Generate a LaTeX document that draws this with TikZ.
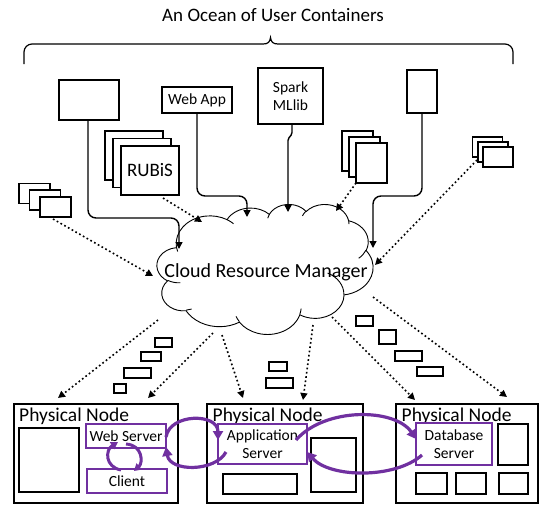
\documentclass[tikz,border=0pt]{standalone}
\usepackage{fontspec}
\setmainfont{Carlito}
\usetikzlibrary{arrows.meta}
\definecolor{vpurple}{HTML}{7030A0}

\begin{document}
\begin{tikzpicture}[x=1pt,y=-1pt,
  box/.style={draw, line width=1.2pt, inner sep=0pt, outer sep=0pt, fill=white},
  txt/.style={font=\fontsize{15.5}{18}\selectfont, align=center},
  pbox/.style={draw=vpurple, line width=2.8pt, inner sep=0pt, outer sep=0pt, fill=white,
    font=\fontsize{15.5}{18}\selectfont, align=center},
  msg/.style={draw, line width=1.1pt, inner sep=0pt, outer sep=0pt},
  pnlabel/.style={anchor=base west, inner sep=0pt, font=\fontsize{19.5}{22}\selectfont},
  link/.style={line width=1.4pt, rounded corners=8pt, -{Triangle[length=7pt,width=7pt]}},
  dotlink/.style={line width=1.6pt, dash pattern=on 1.7pt off 2.6pt, -{Triangle[length=7pt,width=7pt]}},
  ploop/.style={draw=vpurple, line width=3.2pt, -{Triangle[length=9pt,width=10pt]}},
  sloop/.style={draw=vpurple, line width=3pt, -{Triangle[length=7pt,width=8pt]}},
  cloudline/.style={line width=0.9pt}]

\useasboundingbox (0,0) rectangle (540,504);

% heading and brace
\node[font=\fontsize{19}{22}\selectfont] (title) at (273,15) {An Ocean of User Containers};
\draw[line width=1.2pt] (24,64) -- (24,52) arc[start angle=180, delta angle=90, radius=8]
  -- (263,44) .. controls (268,44) and (270,42) .. (270.5,37.5)
  .. controls (271,42) and (273,44) .. (278,44)
  -- (505,44) arc[start angle=270, delta angle=90, radius=8] -- (513,64);

% user containers
\node[box, minimum width=60, minimum height=40] (plain) at (89,100) {};
\node[box, txt, minimum width=70, minimum height=26] (webapp) at (197,100) {Web App};
\node[box, minimum width=58, minimum height=49] (rub3) at (134,155.5) {};
\node[box, minimum width=58, minimum height=49] (rub2) at (142,163) {};
\node[box, minimum width=58, minimum height=49, font=\fontsize{19}{22}\selectfont] (rubis) at (150,170.5) {RUBiS};
\node[box, minimum width=31, minimum height=20] (ls3) at (34.5,193.5) {};
\node[box, minimum width=31, minimum height=20] (ls2) at (45,200) {};
\node[box, minimum width=31, minimum height=20] (ls1) at (55.5,207) {};
\node[box, txt, minimum width=65, minimum height=56] (spark) at (290.5,96) {Spark\\MLlib};
\node[box, minimum width=30, minimum height=43] (tall) at (422,91.5) {};
\node[box, minimum width=31, minimum height=40] (ms3) at (357.5,151) {};
\node[box, minimum width=31, minimum height=40] (ms2) at (364.5,157) {};
\node[box, minimum width=31, minimum height=40] (ms1) at (371.5,163) {};
\node[box, minimum width=30, minimum height=20] (rs3) at (487.5,147) {};
\node[box, minimum width=30, minimum height=20] (rs2) at (493,152) {};
\node[box, minimum width=30, minimum height=20] (rs1) at (498,157) {};

% cloud outline
\draw[cloudline, fill=white] (176.5,247.24)
  arc[start angle=172.25, delta angle=128.12, x radius=33.77, y radius=27.66]
  arc[start angle=-152.02, delta angle=106.56, x radius=26.67, y radius=21.87]
  arc[start angle=-153.49, delta angle=116.17, x radius=21.83, y radius=17.89]
  arc[start angle=-139.71, delta angle=129.50, x radius=24.29, y radius=19.85]
  arc[start angle=-74.77, delta angle=97.98, x radius=26.67, y radius=21.89]
  arc[start angle=-37.52, delta angle=119.38, x radius=33.88, y radius=27.75]
  arc[start angle=0.46, delta angle=121.51, x radius=28.93, y radius=23.67]
  arc[start angle=16.84, delta angle=129.40, x radius=33.76, y radius=27.73]
  arc[start angle=58.98, delta angle=91.21, x radius=38.60, y radius=31.73]
  arc[start angle=-276.69, delta angle=139.79, x radius=21.80, y radius=17.81]
  arc[start angle=-239.64, delta angle=143.75, x radius=21.73, y radius=17.89]
  -- cycle;
% inner puff edges
\draw[cloudline] (180.47,282.77) arc[start angle=85.55, delta angle=34.81, x radius=21.73, y radius=17.89];
\draw[cloudline] (191.64,309.02) arc[start angle=68.23, delta angle=15.08, x radius=21.80, y radius=17.81];
\draw[cloudline] (239.39,321.63) arc[start angle=146.24, delta angle=12.23, x radius=33.76, y radius=27.73];
\draw[cloudline] (301.14,308.58) arc[start angle=4.74, delta angle=12.10, x radius=33.76, y radius=27.73];
\draw[cloudline] (327.65,273.08) arc[start angle=-64.03, delta angle=64.49, x radius=28.93, y radius=23.67];
\draw[cloudline] (365.99,250.20) arc[start angle=23.21, delta angle=26.43, x radius=26.67, y radius=21.89];
\draw[cloudline] (348.62,220.33) arc[start angle=-10.21, delta angle=11.03, x radius=24.29, y radius=19.85];
\draw[cloudline] (302.39,215.89) arc[start angle=-156.29, delta angle=16.58, x radius=24.29, y radius=19.85];
\draw[cloudline] (267.71,218.20) arc[start angle=-167.73, delta angle=14.24, x radius=21.83, y radius=17.89];
\draw[cloudline] (227.0,219.62) arc[start angle=-59.63, delta angle=13.88, x radius=33.77, y radius=27.66];
\draw[cloudline] (177.64,251.51) arc[start angle=163.19, delta angle=9.06, x radius=33.77, y radius=27.66];
\node[font=\fontsize{20}{24}\selectfont] (crm) at (266,272) {Cloud Resource Manager};

% points on the cloud outline
\coordinate (inA) at (179,249);
\coordinate (inB) at (247,217);
\coordinate (inC) at (288,212);
\coordinate (inD) at (373,248);
\coordinate (inE) at (202,222);
\coordinate (inF) at (153,276);
\coordinate (inG) at (336,211);
\coordinate (inH) at (375,265);
\coordinate (outA) at (158,320);
\coordinate (outB) at (213,333);
\coordinate (outC) at (222,335);
\coordinate (outD) at (313,325);
\coordinate (outE) at (332,317);
\coordinate (outF) at (373,297);

% solid connectors into the manager
\draw[link] (plain.south -| 88,0) |- (179,218) -- (inA);
\draw[link] (webapp.south) |- (247,196) -- (inB);
\draw[link, rounded corners=1.5pt] (spark.south -| 292,0) -- (292,134) -- (288,139) -- (inC);
\draw[link] (tall.south) |- (373,196) -- (inD);

% dotted connectors into the manager
\draw[dotlink] (rubis.south east) ++(-16,3) -- (inE);
\draw[dotlink] (ls1.south west) ++(13,2) -- (inF);
\draw[dotlink] (ms1.south west) -- (inG);
\draw[dotlink] (rs1.south west) ++(-6,-7) -- (inH);

% physical nodes
\node[box, minimum width=164, minimum height=99] (pn1) at (96,453.5) {};
\node[box, minimum width=156, minimum height=99] (pn2) at (285,453.5) {};
\node[box, minimum width=142, minimum height=99] (pn3) at (467,453.5) {};
\node[pnlabel] (pn1l) at (19,421) {Physical Node};
\node[pnlabel] (pn2l) at (212.5,421) {Physical Node};
\node[pnlabel] (pn3l) at (401.5,421) {Physical Node};

\node[box, minimum width=60, minimum height=64] (pn1a) at (49,460) {};
\node[pbox, minimum width=80, minimum height=24] (web) at (126,436) {Web Server};
\node[pbox, minimum width=80, minimum height=24] (client) at (127,481) {Client};

\node[pbox, minimum width=89, minimum height=40] (app) at (262.5,444) {Application\\Server};
\node[box, minimum width=74, minimum height=20] (pn2a) at (260,484) {};
\node[box, minimum width=45, minimum height=54] (pn2b) at (333.5,465) {};

\node[pbox, minimum width=76, minimum height=42] (db) at (454,444) {Database\\Server};
\node[box, minimum width=30, minimum height=41] (pn3a) at (513,444.5) {};
\node[box, minimum width=31, minimum height=21] (pn3b) at (431.5,483.5) {};
\node[box, minimum width=30, minimum height=21] (pn3c) at (471,483.5) {};
\node[box, minimum width=29, minimum height=21] (pn3d) at (513.5,483.5) {};

% dotted connectors out to the physical nodes
\draw[dotlink] (outA) -- (58,398);
\draw[dotlink] (outB) -- (148,398);
\draw[dotlink] (outC) -- (243,398);
\draw[dotlink] (outD) -- (303,400);
\draw[dotlink] (outE) -- (415,400);
\draw[dotlink] (outF) -- (507,397);

% container placements in flight
\node[msg, minimum width=17, minimum height=9] (m1) at (163.5,342.5) {};
\node[msg, minimum width=20, minimum height=9] (m2) at (151,356.5) {};
\node[msg, minimum width=27, minimum height=10] (m3) at (137.5,373) {};
\node[msg, minimum width=12, minimum height=9] (m4) at (120,388.5) {};
\node[msg, minimum width=18, minimum height=9] (m5) at (278,366.5) {};
\node[msg, minimum width=27, minimum height=10] (m6) at (279.5,383) {};
\node[msg, minimum width=17, minimum height=10] (m7) at (364.5,321) {};
\node[msg, minimum width=17, minimum height=14] (m8) at (387.5,337) {};
\node[msg, minimum width=27, minimum height=10] (m9) at (408.5,356) {};
\node[msg, minimum width=26, minimum height=9] (m10) at (430,371.5) {};

% request flows between tiers
\draw[sloop] (126,444) .. controls (143,445) and (143,463) .. (134,471);
\draw[sloop] (121,470) .. controls (105,467) and (105,450) .. (118,442);

\draw[ploop] (web.east) ++(0,1) .. controls (170,413) and (218,413) .. (app.west |- 0,440);
\draw[ploop] (226,452) .. controls (215,472) and (170,472) .. (web.east |- 0,447);

\draw[ploop] (296,440) .. controls (325,407) and (395,408) .. (db.west |- 0,439);
\draw[ploop] (422,455) .. controls (395,479) and (330,478) .. (app.east |- 0,452);
\end{tikzpicture}
\end{document}
